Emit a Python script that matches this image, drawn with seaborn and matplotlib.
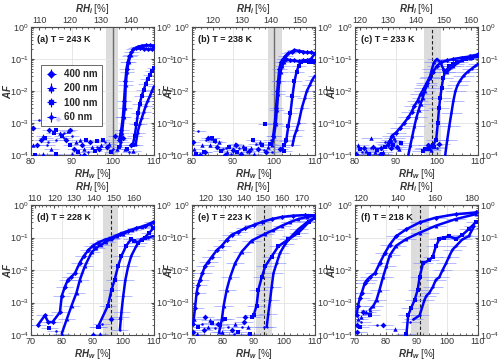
"""AF vs RH_w for six temperatures, 4 particle sizes."""

import matplotlib
matplotlib.use("Agg")
import matplotlib.pyplot as plt
import numpy as np
import seaborn as sns
from matplotlib.ticker import AutoMinorLocator, FixedLocator, LogLocator, NullFormatter

# ---------------------------------------------------------------- data
panel_labels = ["(a) T = 243 K", "(b) T = 238 K", "(c) T = 233 K",
                "(d) T = 228 K", "(e) T = 223 K", "(f) T = 218 K"]
sizes = ["400 nm", "200 nm", "100 nm", "60 nm"]
rhw_limits = [(80, 110), (80, 110), (80, 110), (70, 110), (70, 110), (70, 110)]
rhi_ratio = [1.341, 1.41, 1.477, 1.546, 1.61, 1.667]
rhi_ticks = [[110, 120, 130, 140], [120, 130, 140, 150], [120, 130, 140, 150, 160],
             [110, 120, 130, 140, 150, 160], [120, 130, 140, 150, 160, 170],
             [120, 140, 160, 180]]
band_lo = [98.4, 98.5, 96.9, 93.5, 90.7, 88.1]
band_hi = [101.3, 101.9, 100.9, 98.3, 96.1, 94.0]
line_pos = [99.9, 100.1, 98.9, 96.0, 93.4, 91.0]
rhw_err = [1.8, 1.8, 2.5, 2.8, 3.0, 3.2]

# (a) 243 K
a400_x = [101.5, 102.0, 102.4, 102.7, 103.0, 103.3, 103.6, 104.0, 104.5, 105.0, 105.5, 106.0,
          107.0, 108.0, 109.0, 110.0, 109.5, 108.5, 107.5, 106.5]
a400_y = [3e-4, 6e-4, 1.5e-3, 5e-3, 2e-2, 5e-2, 8e-2, 0.12, 0.16, 0.2, 0.22, 0.24,
          0.26, 0.27, 0.27, 0.26, 0.2, 0.2, 0.21, 0.22]
a200_x = [101.8, 102.2, 102.6, 102.9, 103.1, 103.4, 103.8, 104.3]
a200_y = [2e-4, 5e-4, 1.5e-3, 3e-3, 1.5e-2, 4e-2, 8e-2, 0.13]
a100_x = [104.8, 105.3, 105.7, 106.1, 106.5, 107.0, 107.5, 108.0, 108.5, 109.0, 109.5, 110.0]
a100_y = [2e-4, 4e-4, 9e-4, 2e-3, 4e-3, 7e-3, 1.1e-2, 1.7e-2, 2.4e-2, 3.2e-2, 4.2e-2, 5.2e-2]
a60_x = [105.5, 106.0, 106.5, 107.0, 107.5, 108.0, 108.5, 109.0, 109.5, 110.0]
a60_y = [2e-4, 5e-4, 9e-4, 1.4e-3, 2.2e-3, 3.5e-3, 5e-3, 7e-3, 1e-2, 1.4e-2]
a_noise_x = [80.5, 80.5, 81.0, 82.0, 82.5, 83.0, 83.5, 84.0, 84.5, 85.0, 85.5, 86.0, 86.5, 87.0,
             87.5, 88.0, 88.5, 89.0, 89.5, 90.0, 90.5, 91.0, 91.5, 92.0, 92.5, 93.0, 93.5, 94.0,
             94.5, 95.0, 95.5, 96.0, 96.5, 97.0, 97.5, 98.0, 98.5, 99.0, 99.5, 100.0, 100.5,
             101.0, 101.5, 102.0, 102.5, 103.0, 103.5, 104.0, 104.5, 105.0, 86.0, 88.0, 89.5,
             92.0, 96.0, 84.2, 81.5, 83.0, 86.0, 90.0, 93.0]
a_noise_y = [7e-4, 2e-4, 1e-4, 1.2e-3, 3e-4, 4e-4, 3.5e-4, 2e-4, 6e-4, 1.5e-4, 5e-4, 3e-4, 1.3e-3,
             5e-4, 4e-4, 5e-4, 3e-4, 5.5e-4, 2e-4, 4e-4, 1.5e-4, 2.5e-4, 1.2e-4, 1e-4, 2e-4,
             1.5e-4, 3e-4, 1.2e-4, 2.5e-4, 1.8e-4, 1.3e-4, 1.8e-4, 1.5e-4, 2e-4, 3e-4, 2.5e-4,
             1.8e-4, 2.2e-4, 1.2e-4, 1.5e-4, 3.8e-4, 1.5e-4, 1.8e-4, 2.5e-4, 3.5e-4, 1.5e-4,
             1.5e-4, 1.2e-4, 2e-4, 1.3e-4, 6e-4, 3.5e-4, 6e-4, 3e-4, 2.8e-4, 2.5e-4, 2e-4,
             1.1e-4, 1.1e-4, 1.1e-4, 1e-4]

# (b) 238 K
b400_x = [99.8, 100.2, 100.5, 100.8, 101.0, 101.3, 101.7, 102.2, 102.8, 103.5, 104.3, 105.0,
          106.0, 107.0, 108.0, 109.0, 110.0, 109.0, 108.0, 107.0, 106.0, 105.0, 104.0, 103.0]
b400_y = [4e-4, 1e-3, 3e-3, 1e-2, 2e-2, 5e-2, 8e-2, 0.1, 0.12, 0.15, 0.17, 0.19,
          0.18, 0.17, 0.16, 0.16, 0.15, 0.1, 0.09, 0.09, 0.085, 0.09, 0.09, 0.1]
b200_x = [99.5, 100.0, 100.4, 100.7, 101.0, 101.3, 101.6, 102.0, 102.5, 103.0]
b200_y = [2e-4, 4e-4, 9e-4, 2.5e-3, 8e-3, 2e-2, 4e-2, 6e-2, 8e-2, 0.1]
b100_x = [102.5, 103.0, 103.5, 104.0, 104.5, 105.0, 105.5, 106.0, 106.5, 107.5, 108.5, 109.5, 110.0]
b100_y = [2e-4, 3e-4, 8e-4, 2e-3, 7e-3, 2e-2, 4e-2, 6e-2, 8e-2, 8.5e-2, 8e-2, 8e-2, 8.5e-2]
b60_x = [104.5, 105.0, 105.5, 106.0, 106.8, 107.5, 108.0, 108.7, 109.3, 110.0]
b60_y = [2e-4, 4e-4, 6e-4, 1e-3, 3e-3, 6e-3, 1e-2, 1.5e-2, 2.2e-2, 3e-2]
b_noise_x = [80.2, 80.6, 81.0, 81.5, 82.0, 82.5, 83.0, 83.5, 84.0, 84.5, 85.0, 85.5, 86.0, 86.5,
             87.0, 87.5, 88.0, 88.5, 89.0, 89.5, 90.0, 90.5, 91.0, 91.5, 92.0, 92.5, 93.0, 93.5,
             94.0, 94.5, 95.0, 95.5, 96.0, 96.5, 97.0, 97.5, 98.0, 98.5, 99.0, 99.5, 101.5, 102.0,
             102.5, 103.0, 83.2, 84.8, 85.6, 88.2, 90.8, 95.2, 97.8, 99.2]
b_noise_y = [2.5e-4, 1.5e-4, 1.1e-4, 5.5e-4, 1e-4, 2e-4, 1.2e-4, 3e-4, 3.5e-4, 2e-4, 3.5e-4,
             2.5e-4, 1.8e-4, 2.5e-4, 1.3e-4, 1.5e-4, 1e-4, 1.2e-4, 1.8e-4, 1.1e-4, 1.4e-4,
             2.2e-4, 1.2e-4, 1.6e-4, 1.1e-4, 1.9e-4, 1.5e-4, 1.2e-4, 1.3e-4, 1.7e-4, 3e-4,
             2.2e-4, 1.5e-4, 2.5e-4, 2e-4, 1.4e-4, 1.2e-4, 1.8e-4, 2.2e-4, 1.2e-4, 1.5e-4,
             1.8e-4, 1.3e-4, 2.8e-4, 1.2e-4, 3.5e-4, 2.8e-4, 1.6e-4, 2e-4, 1.1e-4, 9e-4, 3e-4]

# (c) 233 K
c400_x = [88.0, 89.0, 90.0, 91.0, 92.0, 93.0, 93.8, 94.5, 95.3, 96.0, 96.8, 97.5, 98.3, 99.0,
          100.0, 101.0, 102.5, 104.0, 106.0, 108.0, 110.0]
c400_y = [2e-4, 4e-4, 5e-4, 7e-4, 1e-3, 1.5e-3, 2.2e-3, 3.5e-3, 5e-3, 8e-3, 1.2e-2, 1.8e-2,
          2.8e-2, 4e-2, 6e-2, 8e-2, 0.09, 0.1, 0.11, 0.12, 0.14]
c200_x = [93.0, 93.5, 94.0, 94.5, 95.0, 95.5, 96.0, 96.5, 97.0, 97.5, 98.2, 98.8, 99.3, 100.0,
          100.8, 101.5, 102.5, 104.0, 106.0, 108.0, 110.0]
c200_y = [1e-4, 2e-4, 4e-4, 8e-4, 1.5e-3, 2.5e-3, 4e-3, 6e-3, 1e-2, 1.5e-2, 2.5e-2, 5e-2,
          8e-2, 0.1, 0.08, 0.05, 0.04, 0.06, 0.09, 0.11, 0.13]
c100_x = [97.0, 98.0, 99.0, 99.8, 100.2, 100.5, 100.8, 101.1, 101.5, 102.0, 103.0, 104.0,
          105.0, 107.0, 108.5, 110.0]
c100_y = [1.5e-4, 1.5e-4, 2e-4, 3e-4, 1e-3, 3e-3, 6e-3, 1.2e-2, 2.5e-2, 4e-2, 6e-2, 7e-2,
          8e-2, 0.1, 0.11, 0.12]
c60_x = [102.0, 102.5, 103.0, 103.5, 104.0, 104.5, 105.0, 105.5, 106.5, 107.5, 108.5, 109.3, 110.0]
c60_y = [1e-4, 3e-4, 8e-4, 2e-3, 5e-3, 1e-2, 1.5e-2, 2e-2, 3e-2, 4e-2, 5e-2, 6e-2, 7e-2]
c_noise_x = [80.3, 80.8, 81.3, 81.8, 82.3, 82.8, 83.3, 83.8, 84.3, 84.8, 85.3, 85.8, 86.3, 86.8,
             87.3, 87.8, 88.3, 88.8, 89.3, 89.8, 90.3, 90.8, 86.6, 87.4, 88.9, 89.6, 96.5, 97.2,
             97.8, 98.5, 99.3, 100.0, 100.6, 84.0, 91.2]
c_noise_y = [1.1e-4, 2e-4, 1.5e-4, 1.2e-4, 1.6e-4, 1.3e-4, 1.1e-4, 1.6e-4, 1.8e-4, 1.2e-4,
             1.4e-4, 1.1e-4, 1.6e-4, 1.2e-4, 1.8e-4, 2.2e-4, 2.5e-4, 3e-4, 2e-4, 2.8e-4,
             1.8e-4, 1.5e-4, 1.1e-4, 2.6e-4, 1.6e-4, 3.5e-4, 1.3e-4, 1.6e-4, 2e-4, 1.4e-4,
             1.8e-4, 1.6e-4, 2.2e-4, 3.5e-4, 2.4e-4]

# (d) 228 K
d400_x = [72.2, 74.5, 75.6, 77.0, 79.4, 80.0, 81.0, 82.0, 83.0, 84.3, 85.9, 87.2, 88.6, 90.0,
          91.8, 94.0, 96.2, 99.0, 101.6, 104.0, 107.0, 109.7]
d400_y = [2e-4, 4e-4, 2.5e-4, 2.5e-4, 5e-4, 1.6e-3, 3e-3, 5e-3, 6e-3, 8e-3, 1.7e-2, 2.7e-2,
          4e-2, 5.5e-2, 7e-2, 8.5e-2, 0.1, 0.13, 0.16, 0.19, 0.23, 0.3]
d200_x = [80.0, 81.6, 83.2, 84.8, 85.9, 87.5, 89.7, 91.2, 92.9, 94.5, 96.0, 98.0, 100.0, 103.0,
          106.0, 109.0]
d200_y = [1.1e-4, 3e-4, 8e-4, 2e-3, 5e-3, 1.3e-2, 3.5e-2, 4.8e-2, 6e-2, 7.5e-2, 9e-2, 0.11,
          0.13, 0.17, 0.21, 0.26]
d100_x = [91.8, 95.0, 96.2, 97.2, 98.3, 99.4, 101.0, 102.6, 103.6, 104.8, 106.0, 107.0, 108.5, 109.7]
d100_y = [1.8e-4, 8e-4, 2.5e-3, 5e-3, 1.3e-2, 2.7e-2, 5.6e-2, 9e-2, 8e-2, 7e-2, 8.5e-2, 0.1,
          0.14, 0.19]
d60_x = [98.9, 99.4, 100.0, 100.7, 101.6, 102.6, 104.3, 105.9, 107.0, 108.0, 109.7]
d60_y = [1.4e-4, 5e-4, 1.6e-3, 5e-3, 1.3e-2, 2.7e-2, 5.6e-2, 9e-2, 9.5e-2, 0.1, 0.11]
d_noise_x = [90.2, 92.4, 92.0, 93.0, 96.0, 99.0, 76.0, 78.0]
d_noise_y = [1e-4, 1.1e-4, 1.8e-4, 2.2e-4, 3e-4, 3.5e-4, 1.6e-4, 1.3e-4]

# (e) 223 K
e400_x = [70.4, 71.0, 71.5, 72.0, 72.6, 73.4, 74.2, 75.3, 76.4, 78.0, 79.7, 81.3, 82.9, 85.0,
          87.2, 90.0, 92.7, 96.0, 99.2, 103.0, 106.8, 110.0]
e400_y = [2.2e-4, 7e-4, 2e-3, 3.5e-3, 5e-3, 8e-3, 1.3e-2, 1.8e-2, 2.5e-2, 4e-2, 5.6e-2,
          8.5e-2, 0.12, 0.15, 0.19, 0.24, 0.3, 0.37, 0.43, 0.47, 0.49, 0.48]
e200_x = [78.8, 79.7, 80.3, 81.3, 82.4, 84.0, 86.2, 89.4, 93.8, 96.5, 99.2, 102.0, 104.6,
          107.5, 110.0]
e200_y = [1.2e-4, 3e-4, 8e-4, 2.5e-3, 6e-3, 1.6e-2, 3.7e-2, 8e-2, 0.13, 0.17, 0.23, 0.3,
          0.37, 0.43, 0.47]
e100_x = [90.0, 91.0, 91.6, 92.7, 93.8, 95.9, 98.1, 101.3, 104.6, 107.9, 110.0]
e100_y = [4e-4, 8e-4, 2.5e-3, 6e-3, 1.3e-2, 2.6e-2, 5.4e-2, 8.7e-2, 0.14, 0.29, 0.41]
e60_x = [94.3, 94.8, 95.4, 95.9, 96.5, 97.5, 98.6, 100.3, 102.4, 104.6, 107.9, 110.0]
e60_y = [1.8e-4, 4.5e-4, 1.2e-3, 3e-3, 8e-3, 1.6e-2, 3.3e-2, 6.3e-2, 0.11, 0.18, 0.32, 0.4]
e_noise_x = [70.4, 71.5, 72.0, 73.1, 74.2, 75.3, 76.4, 77.5, 78.6, 79.7, 80.7, 81.8, 82.9,
             84.0, 85.0, 86.2, 87.2, 88.3, 89.4, 93.5, 73.8, 76.0, 79.0, 83.5, 86.8, 70.8, 88.8]
e_noise_y = [1.2e-4, 1.1e-4, 1.8e-4, 2.2e-4, 3.6e-4, 1.8e-4, 2.4e-4, 1.6e-4, 2.2e-4, 1.2e-4,
             3e-4, 1.8e-4, 1.4e-4, 2.2e-4, 1.2e-4, 1.8e-4, 3.5e-4, 1.8e-4, 3.5e-4, 1.8e-4,
             1.4e-4, 2.8e-4, 2e-4, 1.1e-4, 2.6e-4, 3e-4, 1.1e-4]

# (f) 218 K
f400_x = [70.5, 71.0, 71.6, 72.2, 73.2, 74.0, 74.8, 76.5, 78.0, 79.7, 81.3, 83.4, 86.7, 91.0,
          96.3, 102.8, 109.2]
f400_y = [4e-4, 8e-4, 1.4e-3, 2e-3, 4e-3, 5e-3, 6e-3, 8e-3, 1.6e-2, 3.3e-2, 6e-2, 0.11, 0.18,
          0.29, 0.41, 0.52, 0.59]
f200_x = [74.8, 76.0, 77.0, 78.0, 79.1, 80.2, 81.3, 83.4, 86.7, 91.0, 96.3, 102.8, 109.2]
f200_y = [6e-4, 8e-4, 1.2e-3, 2.5e-3, 6e-3, 1.3e-2, 2.8e-2, 5.6e-2, 9e-2, 0.14, 0.23, 0.37, 0.52]
f100_x = [86.7, 87.3, 88.3, 89.4, 90.4, 91.0, 92.1, 94.2, 95.3, 96.3, 97.4, 99.0, 100.6,
          102.8, 104.9, 107.0, 109.2]
f100_y = [1e-4, 4e-4, 7e-4, 1.2e-3, 2.5e-3, 6e-3, 1.6e-2, 2e-2, 2.6e-2, 5.4e-2, 8.7e-2, 0.1,
          0.11, 0.09, 0.12, 0.18, 0.29]
f60_x = [89.0, 91.0, 92.6, 93.2, 94.2, 95.3, 96.3, 97.4, 98.5, 99.6, 100.6, 101.7, 102.8,
         104.9, 107.0, 108.7]
f60_y = [3e-4, 4e-4, 1.2e-3, 1.6e-3, 2e-3, 3e-3, 5e-3, 6e-3, 1e-2, 1.6e-2, 2.6e-2, 4.2e-2,
         5.4e-2, 8.7e-2, 0.11, 0.22]
f_noise_x = [70.5, 71.0, 71.5, 72.0, 72.5, 73.5, 75.0, 77.0, 79.0, 83.0, 86.5, 88.0, 70.8, 71.8]
f_noise_y = [2e-4, 3e-4, 1.8e-4, 2.5e-4, 5e-4, 5e-4, 4e-4, 2e-4, 2e-4, 1.5e-4, 1.1e-4, 2.5e-4,
             1.2e-4, 3.5e-4]

curves = [
    [(a400_x, a400_y), (a200_x, a200_y), (a100_x, a100_y), (a60_x, a60_y)],
    [(b400_x, b400_y), (b200_x, b200_y), (b100_x, b100_y), (b60_x, b60_y)],
    [(c400_x, c400_y), (c200_x, c200_y), (c100_x, c100_y), (c60_x, c60_y)],
    [(d400_x, d400_y), (d200_x, d200_y), (d100_x, d100_y), (d60_x, d60_y)],
    [(e400_x, e400_y), (e200_x, e200_y), (e100_x, e100_y), (e60_x, e60_y)],
    [(f400_x, f400_y), (f200_x, f200_y), (f100_x, f100_y), (f60_x, f60_y)],
]
noise = [(a_noise_x, a_noise_y), (b_noise_x, b_noise_y), (c_noise_x, c_noise_y),
         (d_noise_x, d_noise_y), (e_noise_x, e_noise_y), (f_noise_x, f_noise_y)]

# ---------------------------------------------------------------- style
sns.set_style("ticks")
plt.rcParams["font.family"] = ["Liberation Sans", "DejaVu Sans"]
plt.rcParams["mathtext.fontset"] = "custom"
plt.rcParams["mathtext.rm"] = "Liberation Sans"
plt.rcParams["mathtext.it"] = "Liberation Sans:italic:bold"
plt.rcParams["font.size"] = 6.5

BLUE = "#0000ff"
ERR = (0.45, 0.5, 1.0, 0.55)
FRAME = "#4d4d4d"
TXT = "#333333"
markers = ["D", "^", "s", "o"]
msizes = [2.6, 2.8, 2.4, 1.6]

fig = plt.figure(figsize=(5.0, 3.61), dpi=100)
W, H = 500.0, 361.0
lefts = [31, 192, 355]
rows = [(27, 155), (205, 335)]

for i in range(6):
    col, row = i % 3, i // 3
    top, bottom = rows[row]
    ax = fig.add_axes([lefts[col] / W, 1 - bottom / H, 123 / W, (bottom - top) / H])
    ax.set_yscale("log")
    x0, x1 = rhw_limits[i]

    ax.axvspan(band_lo[i], band_hi[i], color="#dcdcdc", lw=0, zorder=0.5)
    if i < 2:
        ax.axvline(line_pos[i], color="#6e6e6e", lw=1.0, zorder=0.6)
    else:
        ax.axvline(line_pos[i], color="#222222", lw=0.8, ls=(0, (3, 2)), zorder=0.6)

    # background points
    nx, ny = noise[i]
    ax.errorbar(nx, ny, xerr=rhw_err[i], fmt="none", ecolor=ERR, elinewidth=0.7, zorder=1)
    for k in range(4):
        sns.scatterplot(x=nx[k::4], y=ny[k::4], marker=markers[k], s=msizes[k] ** 2 * 1.3,
                        color=BLUE, edgecolor=BLUE, linewidth=0, ax=ax, zorder=3)

    for k, (cx, cy) in enumerate(curves[i]):
        ax.errorbar(cx, cy, xerr=rhw_err[i], fmt="none", ecolor=ERR, elinewidth=0.7, zorder=1)
        sns.lineplot(x=cx, y=cy, sort=False, estimator=None, color=BLUE, lw=1.8,
                     marker=markers[k], markersize=msizes[k], markeredgewidth=0,
                     markerfacecolor=BLUE, ax=ax, zorder=3)

    ax.set_xlim(x0, x1)
    ax.set_ylim(1e-4, 1)
    ax.set_xticks(np.arange(x0, x1 + 1, 10))
    ax.xaxis.set_minor_locator(AutoMinorLocator(5))
    ax.yaxis.set_major_locator(LogLocator(base=10, numticks=10))
    ax.yaxis.set_minor_locator(LogLocator(base=10, subs=np.arange(2, 10), numticks=20))
    ax.yaxis.set_minor_formatter(NullFormatter())
    ax.grid(True, which="major", color="#e3e3e3", lw=0.6, zorder=0)
    ax.set_axisbelow(True)
    ax.tick_params(which="both", direction="in", top=False, right=True, labelright=True,
                   color=FRAME, labelsize=6.5, pad=1.5, labelcolor=TXT)
    ax.tick_params(which="major", length=2.5)
    ax.tick_params(which="minor", length=1.2)
    for sp in ax.spines.values():
        sp.set_color(FRAME)
        sp.set_linewidth(0.8)

    ax.set_xlabel(r"$RH_w$ [%]", fontsize=7, labelpad=1, color=TXT)
    ax.set_ylabel(r"$AF$", fontsize=7, color=TXT)
    ax.yaxis.set_label_coords(-0.15, 0.5)

    r = rhi_ratio[i]
    sec = ax.secondary_xaxis("top", functions=(lambda v, r=r: v * r, lambda v, r=r: v / r))
    sec.xaxis.set_major_locator(FixedLocator(rhi_ticks[i]))
    sec.xaxis.set_minor_locator(AutoMinorLocator(5 if rhi_ticks[i][1] - rhi_ticks[i][0] == 10 else 4))
    sec.tick_params(which="both", direction="in", color=FRAME, labelsize=6.5, pad=1.5,
                    labelcolor=TXT)
    sec.tick_params(which="major", length=2.5)
    sec.tick_params(which="minor", length=1.2)
    sec.spines["top"].set_color(FRAME)
    sec.set_xlabel(r"$RH_i$ [%]", fontsize=7, labelpad=3, color=TXT)

    ax.text(0.05, 0.9, panel_labels[i], transform=ax.transAxes, fontsize=6.5,
            fontweight="bold", ha="left", va="center", zorder=5, color="#1a1a1a")

    if i == 0:
        handles = []
        for k in range(4):
            h = ax.errorbar([np.nan], [np.nan], xerr=[1], yerr=[1], fmt=markers[k], color=BLUE,
                            ms=msizes[k] + 0.6, elinewidth=0.8, capsize=0, label=sizes[k])
            handles.append(h)
        leg = ax.legend(handles=handles, labels=sizes, loc="upper left",
                        bbox_to_anchor=(0.04, 0.74), frameon=True, fancybox=False,
                        borderpad=0.4, labelspacing=0.45, handlelength=1.4, handletextpad=0.6,
                        prop={"weight": "bold", "size": 7})
        leg.get_frame().set_edgecolor("#262626")
        leg.get_frame().set_linewidth(0.6)
        leg.set_zorder(6)

fig.savefig("out.png", dpi=100)
